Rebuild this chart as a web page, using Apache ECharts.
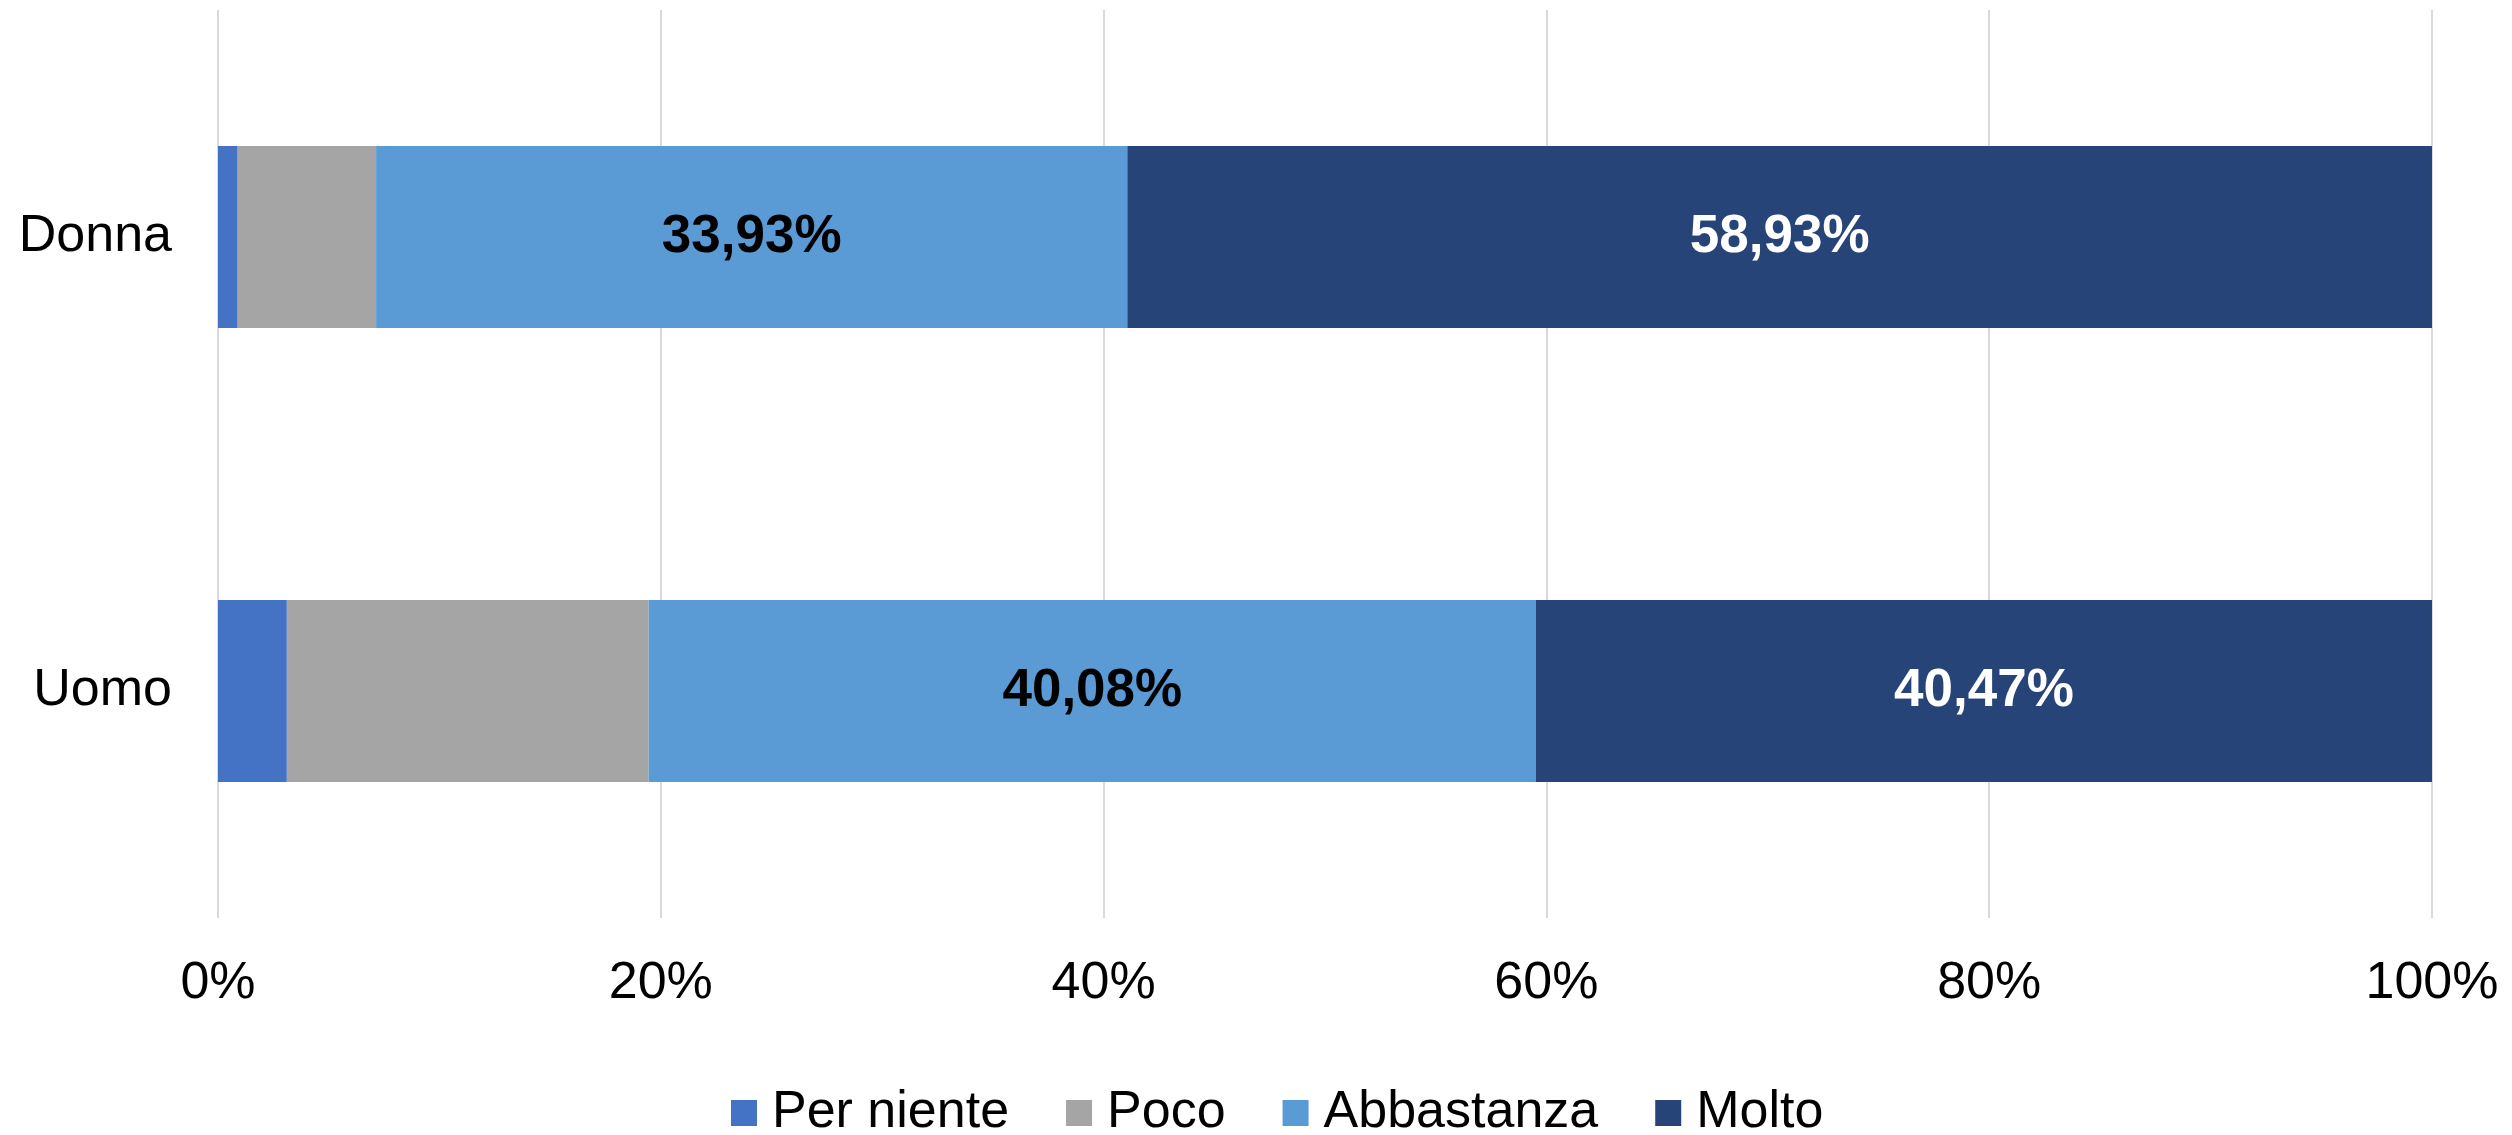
<!DOCTYPE html>
<html>
<head>
<meta charset="utf-8">
<script src="https://cdn.jsdelivr.net/npm/echarts@6/dist/echarts.min.js"></script>
<style>
    html, body { margin: 0; padding: 0; background: #fff; }
    #main { width: 2512px; height: 1135px; }
</style>
</head>
<body>
<div id="main"></div>
<script>
    // dati (percentuali)
    var categorie = ['Donna', 'Uomo'];
    var perNiente = [0.89, 3.11];
    var poco = [6.25, 16.34];
    var abbastanza = [33.93, 40.08];
    var molto = [58.93, 40.47];
    var tickX = [0, 20, 40, 60, 80, 100];

    var font = "'Liberation Sans', Arial, sans-serif";

    function etichetta(p) {
        return p.value.toFixed(2).replace('.', ',') + '%';
    }

    var chartDom = document.getElementById('main');
    var myChart = echarts.init(chartDom);
    var option;

    option = {
        animation: false,
        textStyle: { fontFamily: font },
        color: ['#4472C4', '#A5A5A5', '#5B9BD5', '#264478'],
        grid: {
            left: 218,
            right: 80,
            top: 10,
            bottom: 217
        },
        legend: {
            left: 726,
            top: 1082,
            itemWidth: 26,
            itemHeight: 26,
            itemGap: 57,
            icon: 'rect',
            textStyle: {
                fontFamily: font,
                fontSize: 52,
                color: '#000',
                padding: [0, 0, 0, 10]
            },
            data: ['Per niente', 'Poco', 'Abbastanza', 'Molto']
        },
        xAxis: {
            type: 'value',
            min: tickX[0],
            max: tickX[tickX.length - 1],
            interval: 20,
            axisLine: { show: false },
            axisTick: { show: false },
            axisLabel: {
                formatter: '{value}%',
                fontSize: 52,
                color: '#000',
                margin: 40,
                fontFamily: font
            },
            splitLine: {
                lineStyle: { color: '#d9d9d9', width: 2 }
            }
        },
        yAxis: {
            type: 'category',
            inverse: true,
            data: categorie,
            axisLine: { show: false },
            axisTick: { show: false },
            axisLabel: {
                fontSize: 52,
                color: '#000',
                margin: 46,
                fontFamily: font
            }
        },
        series: [
            {
                name: 'Per niente',
                type: 'bar',
                stack: 'tot',
                barWidth: 182,
                data: perNiente
            },
            {
                name: 'Poco',
                type: 'bar',
                stack: 'tot',
                data: poco
            },
            {
                name: 'Abbastanza',
                type: 'bar',
                stack: 'tot',
                data: abbastanza,
                label: {
                    show: true,
                    position: 'inside',
                    formatter: etichetta,
                    fontSize: 53,
                    fontWeight: 'bold',
                    color: '#000',
                    fontFamily: font
                }
            },
            {
                name: 'Molto',
                type: 'bar',
                stack: 'tot',
                data: molto,
                label: {
                    show: true,
                    position: 'inside',
                    formatter: etichetta,
                    fontSize: 53,
                    fontWeight: 'bold',
                    color: '#fff',
                    fontFamily: font
                }
            }
        ]
    };

    option && myChart.setOption(option);
</script>
</body>
</html>
